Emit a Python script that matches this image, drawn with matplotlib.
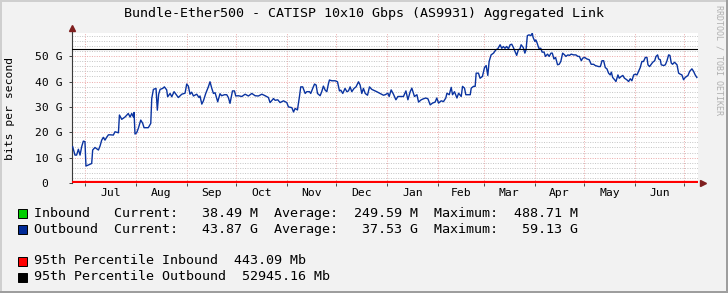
"""RRDtool-style yearly traffic graph for Bundle-Ether500, saved to out.png."""
import matplotlib
matplotlib.use("Agg")
import matplotlib.pyplot as plt
from matplotlib.patches import Rectangle
from matplotlib.ticker import MultipleLocator

plt.rcParams["font.family"] = ["DejaVu Sans Mono"]

TITLE = "Bundle-Ether500 - CATISP 10x10 Gbps (AS9931) Aggregated Link"

# x axis = days since the start of the graph window (23 Jun)
MONTH_STARTS = [8, 39, 70, 100, 131, 161, 192, 223, 251, 282, 312, 343, 373]
MONTH_NAMES = ["Jul", "Aug", "Sep", "Oct", "Nov", "Dec",
               "Jan", "Feb", "Mar", "Apr", "May", "Jun"]
X_END = 381.5
Y_MAX = 59.13

Y_TICKS = [0, 10, 20, 30, 40, 50]
Y_LABELS = ["0  ", "10 G", "20 G", "30 G", "40 G", "50 G"]

# outbound traffic, Gbit/s
OUT_DAY = [0.4, 1.8, 2.8, 3.9, 4.9, 5.9, 6.9, 7.9, 8.5, 10.0, 12.0, 12.6, 14.0, 16.1,
           17.1, 18.1, 19.1, 20.1, 21.1, 22.2, 23.2, 25.2, 26.2, 28.3, 28.9, 30.3,
           32.3, 34.3, 35.4, 36.4, 37.4, 37.8, 38.4, 39.4, 40.4, 41.9, 43.1, 43.9,
           46.5, 48.0, 48.6, 49.6, 51.2, 52.0, 52.8, 53.7, 55.3, 56.3, 57.7, 58.3,
           59.8, 60.8, 62.2,
           64.8, 66.9, 68.9, 69.9, 70.9, 71.9, 72.9, 74.0, 76.0, 77.4, 78.0, 79.1,
           80.1, 81.5, 83.1, 84.1, 85.2, 86.2, 87.2, 88.8, 90.2, 91.2, 92.9, 94.3,
           95.3, 96.3, 97.8, 99.0, 99.8, 101.4, 103.5, 105.5, 107.5, 109.6, 111.6,
           113.6, 115.7, 117.7, 119.7, 120.7, 122.8, 123.8, 125.4, 126.8,
           128.9, 130.9, 131.9, 134.0, 135.0, 136.0, 137.4, 138.6, 139.4, 140.6,
           142.1, 143.1, 144.7, 145.5, 146.7, 147.8, 148.8, 149.6, 151.2, 152.2,
           153.2, 154.3, 155.3, 156.3, 156.9, 158.3, 160.4, 161.8, 163.0, 163.8,
           165.0, 166.4, 167.5, 168.5, 169.5, 170.5, 171.9, 173.1, 174.6, 175.6,
           176.6, 177.6, 178.7, 180.1, 181.3, 182.7, 183.7, 185.7, 187.8, 189.8,
           190.9, 192.5, 193.3, 194.5, 195.9, 197.4, 198.6, 200.0, 202.0, 203.5,
           204.7, 206.1, 207.1, 208.7, 210.2, 211.2, 212.8, 214.2, 215.6, 216.9,
           218.3, 219.7, 221.3, 222.3, 223.4, 225.0, 226.4, 227.8, 228.5, 229.9,
           231.1, 231.9, 233.1, 234.6, 235.6, 237.2, 238.0, 239.2, 240.0, 242.7,
           243.3, 244.7, 245.7, 246.3, 247.7, 248.7, 250.1, 251.4, 252.4, 253.4,
           254.2, 255.4,
           256.9, 258.3, 259.5, 260.9, 261.9, 262.9, 263.9, 264.9, 266.0, 267.0,
           268.0, 269.0, 270.0, 271.0, 272.0, 273.0, 273.7, 275.0, 276.0, 276.7,
           277.5, 278.5, 279.7, 280.5, 281.0, 282.1, 282.7, 283.5, 284.5, 285.7,
           286.5, 287.7, 288.5, 289.8, 290.8, 291.9, 292.7, 293.7, 294.7, 295.9,
           296.9, 297.9, 299.0, 300.2, 301.0, 302.2, 303.2, 304.2, 305.7, 307.1,
           308.3, 309.2, 310.4, 311.2, 312.4, 313.8, 315.2, 316.4, 317.9,
           318.9, 320.9, 322.0, 323.0, 324.0, 325.0, 326.0, 327.0, 328.0, 328.7,
           329.5, 330.7, 331.5, 332.7, 333.5, 334.7, 335.7, 336.7, 338.1, 339.2,
           340.2, 341.2, 342.3, 343.3, 344.3, 345.3, 346.3, 347.3, 348.3, 349.4,
           350.4, 351.0, 352.0, 353.0, 353.9, 355.1, 355.9, 356.9, 357.5, 358.5,
           359.1, 360.6, 361.6, 362.6, 363.6, 364.4, 365.2, 366.0, 367.2, 368.7,
           369.7, 370.7, 371.7, 372.7, 373.7, 375.4, 376.4, 377.8, 378.8, 379.8,
           380.8]
OUT_GBPS = [14.3, 11.0, 11.0, 13.3, 11.0, 14.3, 16.5, 16.3, 6.7, 7.1, 7.7, 13.0, 14.0, 13.0,
            14.6, 16.9, 18.0, 16.9, 18.0, 19.0, 19.0, 18.9, 20.2, 19.8, 26.8, 25.1,
            26.0, 27.4, 26.0, 27.4, 26.0, 27.8, 19.3, 19.8, 21.5, 24.8, 23.5, 21.8,
            21.8, 23.5, 33.3, 36.9, 37.3, 28.7, 35.0, 36.9, 37.3, 37.9, 36.7, 34.0,
            35.3, 34.0, 36.0,
            33.7, 35.0, 35.4, 39.0, 38.2, 35.0, 35.8, 34.3, 35.0, 33.7, 34.3, 31.1,
            32.4, 35.3, 37.9, 39.9, 37.3, 35.3, 35.6, 32.0, 35.2, 34.4, 34.8, 34.8,
            33.7, 31.4, 36.3, 36.3, 34.3, 34.4, 34.1, 35.0, 34.3, 35.3, 34.4,
            34.3, 35.0, 34.4, 33.7, 31.7, 33.3, 32.6, 32.8, 31.7,
            32.4, 31.7, 30.0, 29.7, 28.0, 29.4, 28.8, 34.0, 37.9, 37.9,
            35.3, 36.0, 36.0, 35.3, 37.3, 39.0, 38.6, 35.3, 34.4, 36.0,
            38.2, 36.6, 36.0, 39.2, 40.6, 40.3, 40.3, 39.9, 36.3, 36.6,
            35.3, 37.3, 36.0, 36.3, 37.9, 36.0, 37.3, 37.9, 39.9, 38.6,
            35.3, 37.3, 35.3, 34.6, 37.9, 36.9, 36.6, 36.0, 35.3, 34.6,
            34.8, 35.4, 34.1, 36.7, 35.0, 32.8, 34.1, 34.1, 34.1, 36.3,
            32.8, 36.0, 37.4, 34.1, 34.8, 31.9, 32.8, 33.2, 33.5, 33.2,
            30.8, 31.5, 31.9, 33.5, 31.5, 32.4, 32.1, 33.5, 35.4, 34.8,
            37.7, 34.8, 36.0, 33.5, 35.4, 34.1, 38.1, 37.4, 34.8, 34.8,
            37.4, 38.1, 38.1, 43.3, 43.3, 41.3, 42.0, 45.5, 46.3, 42.4,
            47.9, 50.5,
            51.2, 52.5, 52.9, 54.5, 53.1, 53.8, 53.1, 53.8, 52.9, 54.5,
            54.7, 53.4, 51.8, 50.3, 52.5, 52.9, 54.5, 53.4, 51.2, 52.5,
            58.1, 58.4, 58.1, 59.1, 57.4, 55.8, 56.4, 55.1, 53.1, 53.1,
            51.6, 51.6, 49.9, 50.8, 49.9, 51.2, 51.2, 48.9, 49.5, 46.6,
            46.8, 47.9, 51.2, 50.5, 49.9, 50.5, 50.3, 50.8, 50.5, 50.5,
            49.9, 49.9, 48.2, 49.2, 49.5, 48.9, 48.6, 46.8, 46.8,
            46.3, 45.9, 45.9, 48.2, 48.2, 45.5, 45.0, 43.3, 42.6, 43.7,
            41.6, 40.7, 40.0, 42.6, 41.3, 42.0, 42.4, 41.3, 40.7, 40.0,
            41.1, 40.3, 42.6, 42.9, 42.6, 44.0, 45.5, 47.9, 47.9, 49.5,
            49.5, 46.6, 45.9, 46.8, 47.6, 48.2, 49.9, 50.5, 48.9, 48.6,
            46.6, 46.3, 46.6, 48.2, 50.5, 50.3, 47.3, 46.8, 47.6, 46.6,
            43.3, 42.9, 42.6, 40.7, 41.6, 42.4, 44.0, 45.0, 44.0, 42.6,
            41.6]

# inbound traffic, Gbit/s (hidden under the 95th percentile rule)
IN_DAY = [0, 60, 120, 180, 240, 300, 381]
IN_GBPS = [0.30, 0.25, 0.30, 0.28, 0.20, 0.22, 0.04]

P95_IN = 0.443
P95_OUT = 52.945

LEGEND_ROWS = [
    ("#00CF00", "Inbound   Current:   38.49 M  Average:  249.59 M  Maximum:  488.71 M", 213),
    ("#002A97", "Outbound  Current:   43.87 G  Average:   37.53 G  Maximum:   59.13 G", 229),
    ("#FF0000", "95th Percentile Inbound  443.09 Mb", 261),
    ("#000000", "95th Percentile Outbound  52945.16 Mb", 277),
]

W, H = 728, 293
BACK = "#F2F2F2"
MGRID = "#EBA8A8"
GRID = "#C4C4C4"
ARROW = "#7F1F1F"
DOTS = (0, (1, 1.5))


def fx(px):
    return px / W


def fy(py):
    return 1 - py / H


fig = plt.figure(figsize=(W / 100, H / 100), dpi=100, facecolor=BACK)

# 3d-ish frame around the image
for xy, w, h, c in [((0, 1 - 2 / H), 1, 2 / H, "#CFCFCF"), ((0, 0), 2 / W, 1, "#CFCFCF"),
                    ((0, 0), 1, 2 / H, "#9E9E9E"), ((1 - 2 / W, 0), 2 / W, 1, "#9E9E9E")]:
    fig.patches.append(Rectangle(xy, w, h, transform=fig.transFigure, color=c, lw=0))

ax = fig.add_axes([fx(72), fy(183), fx(698) - fx(72), fy(33) - fy(183)])
ax.set_facecolor("white")
ax.set_xlim(0, X_END)
ax.set_ylim(0, Y_MAX)

# dotted grid
ax.set_yticks(Y_TICKS)
ax.set_yticklabels(Y_LABELS)
ax.yaxis.set_minor_locator(MultipleLocator(2))
ax.grid(which="minor", axis="y", color=GRID, ls=DOTS, lw=0.7)
ax.grid(which="major", axis="y", color=MGRID, ls=DOTS, lw=0.7)
ax.set_xticks(MONTH_STARTS)
ax.set_xticklabels([""] * len(MONTH_STARTS))
ax.grid(which="major", axis="x", color=MGRID, ls=DOTS, lw=0.7)
mids = [(a + b) / 2 for a, b in zip(MONTH_STARTS[:-1], MONTH_STARTS[1:])]
ax.set_xticks(mids, minor=True)
ax.set_xticklabels(MONTH_NAMES, minor=True)
ax.set_axisbelow(True)

ax.tick_params(axis="y", which="major", length=2, width=0.7, color="#444444",
               labelsize=8.2, pad=4.5)
ax.tick_params(axis="y", which="minor", length=0)
ax.tick_params(axis="x", which="major", length=2, width=0.7, color="#444444")
ax.tick_params(axis="x", which="minor", length=0, labelsize=8.2, pad=3.5)

for s in ["top", "right", "bottom"]:
    ax.spines[s].set_visible(False)
ax.spines["left"].set_color("#3a3a3a")
ax.spines["left"].set_linewidth(0.8)

# series
ax.plot(IN_DAY, IN_GBPS, color="#00CF00", lw=1.0, zorder=3)
ax.plot(OUT_DAY, OUT_GBPS, color="#0A33A0", lw=1.0, zorder=3)
ax.axhline(P95_OUT, color="black", lw=0.8, zorder=4)
ax.axhline(P95_IN, color="#FF0000", lw=1.6, zorder=4)

# axis arrows
ax.plot([0, 0], [1, 1.035], transform=ax.transAxes, color="#3a3a3a", lw=0.8, clip_on=False)
ax.plot([0], [1.035], marker="^", ms=4.5, color=ARROW, transform=ax.transAxes, clip_on=False)
ax.plot([1.0075], [0], marker=">", ms=4.5, color=ARROW, transform=ax.transAxes, clip_on=False)

# texts
fig.text(0.5, fy(13), TITLE, ha="center", va="center", size=9.6)
fig.text(fx(10), fy(108), "bits per second", rotation=90, ha="center", va="center", size=8.2)
fig.text(fx(718.5), fy(60), "RRDTOOL / TOBI OETIKER", rotation=270, ha="center",
         va="center", size=6, color="#B0B0B0")

for color, label, yc in LEGEND_ROWS:
    fig.patches.append(Rectangle((fx(17.5), fy(yc + 4.5)), 9 / W, 9 / H,
                                 transform=fig.transFigure, facecolor=color,
                                 edgecolor="black", lw=0.7))
    fig.text(fx(34), fy(yc), label, ha="left", va="center", size=9.6)

fig.savefig("out.png", dpi=100, facecolor=BACK)
